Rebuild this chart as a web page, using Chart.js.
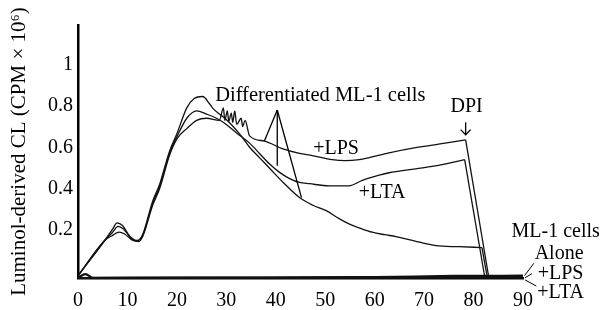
<!DOCTYPE html>
<html>
<head>
<meta charset="utf-8">
<script src="https://cdn.jsdelivr.net/npm/chart.js@4/dist/chart.umd.min.js"></script>
<style>
html,body{margin:0;padding:0;background:#fff;}
canvas{display:block;}
</style>
</head>
<body>
<canvas id="c" width="607" height="310"></canvas>
<script>
// ---- data (time in min, CL in CPM x 10^6) ----
const xTicks = [0, 10, 20, 30, 40, 50, 60, 70, 80, 90];
const yTicks = [0.2, 0.4, 0.6, 0.8, 1];

const diffAloneTime = [0, 5.4, 7, 7.9, 9, 10.5, 12, 13.1, 15.1, 16.5, 18.5, 20, 22, 23.5, 25.2, 26.6, 27.2, 28.6, 29.2, 31, 33, 34.7, 36.7, 38.7, 41.5, 44.8, 47.5, 50.2, 52.5, 54.8, 57, 59.5, 62, 64.3, 68, 72.4, 77, 81.7];
const diffAloneCL   = [-0.02, 0.15, 0.205, 0.235, 0.222, 0.17, 0.15, 0.18, 0.34, 0.42, 0.58, 0.665, 0.79, 0.835, 0.845, 0.81, 0.79, 0.76, 0.75, 0.71, 0.655, 0.6, 0.55, 0.5, 0.43, 0.357, 0.32, 0.294, 0.26, 0.23, 0.21, 0.19, 0.178, 0.169, 0.148, 0.125, 0.12, 0.116];
const diffAloneDropTime = [81.7, 82.8];
const diffAloneDropCL   = [0.116, -0.031];

const diffLTATime = [0, 5.4, 7, 8.1, 9.2, 10.8, 12, 13.1, 15.1, 16.5, 18.5, 20, 22, 24, 26, 28, 30, 32, 34.7, 36.7, 38.7, 40.7, 42.7, 44.8, 46.8, 50.8, 54.8, 57.5, 60.9, 62.9, 68.3, 73.6, 78.2];
const diffLTACL   = [-0.02, 0.15, 0.19, 0.218, 0.205, 0.16, 0.148, 0.175, 0.33, 0.41, 0.57, 0.65, 0.74, 0.776, 0.76, 0.74, 0.71, 0.67, 0.62, 0.57, 0.52, 0.48, 0.45, 0.43, 0.424, 0.414, 0.414, 0.44, 0.465, 0.477, 0.496, 0.516, 0.54];
const diffLTADropTime = [78.2, 82.3];
const diffLTADropCL   = [0.54, -0.031];

const diffLPSTime = [0, 5.4, 7, 8.3, 9.5, 11.1, 12.3, 13.1, 15.1, 16.5, 18.5, 20, 22, 24, 26, 28.6, 29.4, 29.7, 30.2, 30.5, 31, 31.3, 31.7, 32.1, 33, 33.3, 33.8, 34.7, 37.7, 41.3, 44.8, 47.4, 51.4, 54, 56.9, 58.9, 62.9, 68.3, 73.6, 78.4];
const diffLPSCL   = [-0.02, 0.15, 0.175, 0.19, 0.18, 0.15, 0.145, 0.17, 0.32, 0.40, 0.56, 0.64, 0.69, 0.73, 0.74, 0.73, 0.79, 0.73, 0.775, 0.725, 0.765, 0.72, 0.775, 0.71, 0.74, 0.70, 0.73, 0.655, 0.63, 0.593, 0.57, 0.56, 0.54, 0.535, 0.54, 0.55, 0.573, 0.598, 0.617, 0.636];
const diffLPSDropTime = [78.4, 83.1];
const diffLPSDropCL   = [0.636, -0.031];

const ml1AloneTime = [0, 1.5, 3, 30, 60, 76, 90];
const ml1AloneCL   = [-0.03, -0.012, -0.03, -0.029, -0.027, -0.021, -0.02];
const ml1LPSTime = [0, 40, 60, 90];
const ml1LPSCL   = [-0.031, -0.03, -0.028, -0.024];
const ml1LTATime = [0, 90];
const ml1LTACL   = [-0.031, -0.029];

const FONT = "'Liberation Serif', 'Times New Roman', serif";

function pts(t, v) { return t.map((x, i) => ({x: x, y: v[i]})); }
function ds(t, v, w) {
  return { data: pts(t, v), borderColor: '#111', borderWidth: w, pointRadius: 0,
           fill: false, cubicInterpolationMode: 'monotone', clip: false };
}
function straight(t, v, w) {
  return { data: pts(t, v), borderColor: '#111', borderWidth: w, pointRadius: 0,
           fill: false, tension: 0, clip: false };
}

const annot = {
  id: 'annot',
  afterDraw(chart) {
    const ctx = chart.ctx, X = chart.scales.x, Y = chart.scales.y;
    const px = v => X.getPixelForValue(v), py = v => Y.getPixelForValue(v);
    ctx.save();
    ctx.fillStyle = '#000';
    ctx.strokeStyle = '#000';
    ctx.textAlign = 'center';
    ctx.textBaseline = 'middle';
    ctx.font = '20.5px ' + FONT;
    ctx.fillText('Differentiated ML-1 cells', px(49), py(0.85));
    ctx.font = '20px ' + FONT;
    ctx.fillText('+LPS', px(52.2), py(0.593));
    ctx.fillText('+LTA', px(61.5), py(0.38));
    ctx.fillText('DPI', px(78.6), py(0.795));
    ctx.fillText('ML-1 cells', px(96.6), py(0.19));
    ctx.fillText('Alone', px(97.3), py(0.085));
    ctx.fillText('+LPS', px(97.6), py(-0.01));
    ctx.fillText('+LTA', px(97.6), py(-0.1));
    ctx.lineWidth = 1.3;
    // pointer lines from label
    const ax = px(40.3), ay = py(0.78);
    [[37.7, 0.63], [40.3, 0.511], [45.2, 0.357]].forEach(p => {
      ctx.beginPath(); ctx.moveTo(ax, ay); ctx.lineTo(px(p[0]), py(p[1])); ctx.stroke();
    });
    // DPI arrow
    const dx = px(78.4);
    ctx.beginPath(); ctx.moveTo(dx, py(0.72)); ctx.lineTo(dx, py(0.66)); ctx.stroke();
    ctx.beginPath(); ctx.moveTo(dx - 5, py(0.685)); ctx.lineTo(dx, py(0.66)); ctx.lineTo(dx + 5, py(0.685)); ctx.stroke();
    // leader lines to ML-1 labels
    ctx.lineWidth = 1;
    [[[90.3, -0.02], [92.2, 0.04]], [[90.4, -0.03], [91.8, -0.01]], [[90.4, -0.04], [92.7, -0.07]]].forEach(s => {
      ctx.beginPath(); ctx.moveTo(px(s[0][0]), py(s[0][1])); ctx.lineTo(px(s[1][0]), py(s[1][1])); ctx.stroke();
    });
    ctx.restore();
  }
};

new Chart(document.getElementById('c'), {
  type: 'line',
  data: {
    datasets: [
      ds(diffAloneTime, diffAloneCL, 1.3),
      straight(diffAloneDropTime, diffAloneDropCL, 1.3),
      ds(diffLTATime, diffLTACL, 1.3),
      straight(diffLTADropTime, diffLTADropCL, 1.3),
      ds(diffLPSTime, diffLPSCL, 1.3),
      straight(diffLPSDropTime, diffLPSDropCL, 1.3),
      ds(ml1AloneTime, ml1AloneCL, 2.2),
      ds(ml1LPSTime, ml1LPSCL, 2.2),
      ds(ml1LTATime, ml1LTACL, 2.2)
    ]
  },
  options: {
    responsive: false,
    animation: false,
    events: [],
    layout: { padding: { top: 25, right: 84, left: 0, bottom: 0 } },
    plugins: { legend: { display: false }, tooltip: { enabled: false } },
    scales: {
      x: {
        type: 'linear', min: 0, max: 90,
        grid: { display: false, drawTicks: false },
        border: { display: true, color: '#000', width: 2.5 },
        afterBuildTicks: s => { s.ticks = xTicks.map(v => ({ value: v })); },
        afterFit: s => { s.height = 32; },
        ticks: { color: '#000', font: { family: FONT, size: 20 }, padding: 11, maxRotation: 0,
                 callback: v => String(v) }
      },
      y: {
        type: 'linear', min: -0.031, max: 1.19,
        grid: { display: false, drawTicks: false },
        border: { display: true, color: '#000', width: 2.5 },
        afterBuildTicks: s => { s.ticks = yTicks.map(v => ({ value: v })); },
        afterFit: s => { s.width = 78; },
        ticks: { color: '#000', font: { family: FONT, size: 20 }, padding: 5,
                 callback: v => String(v) },
        title: { display: true, text: 'Luminol-derived CL (CPM × 10⁶)', color: '#000',
                 font: { family: FONT, size: 21 }, padding: { top: 7, bottom: 0 } }
      }
    }
  },
  plugins: [annot]
});
</script>
</body>
</html>
